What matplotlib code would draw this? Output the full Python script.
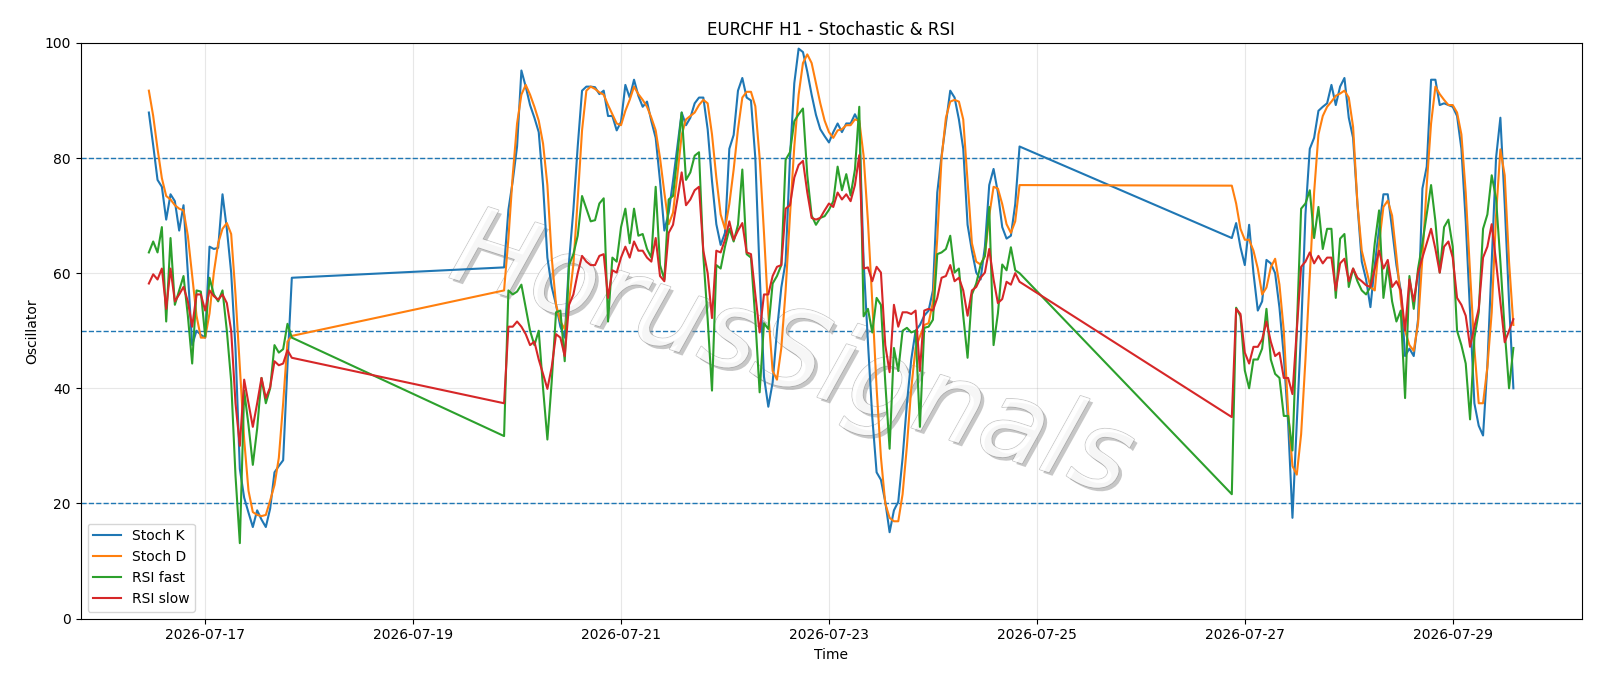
import numpy as np
import pandas as pd
import matplotlib
matplotlib.use("Agg")
import matplotlib.pyplot as plt
import matplotlib.dates as mdates
import matplotlib.patheffects as pe

# ---- session starts (hourly bars, weekend gaps) ----
seg1_start = "2026-07-16 11:00"
seg2_start = "2026-07-19 21:00"
seg3_start = "2026-07-26 21:00"

# ---- segment 1 ----
stoch_k_1 = [87.9, 82.2, 76.2, 75.0, 69.3, 73.7, 72.5, 67.4, 71.8, 60.0, 47.5, 50.0, 49.3, 48.8,
             64.6, 64.2, 64.4, 73.7, 67.7, 60.1, 46.9, 26.0, 21.0, 18.4, 15.9, 18.8, 17.2, 15.9,
             19.1, 25.4, 26.5, 27.5, 44.0, 59.2]
stoch_d_1 = [91.7, 87.3, 81.6, 76.5, 73.4, 72.8, 71.8, 71.2, 70.9, 66.5, 59.5, 52.6, 48.8, 48.8,
             53.0, 60.1, 65.2, 67.7, 68.7, 66.8, 56.3, 43.7, 31.1, 22.2, 18.5, 18.0, 17.8, 18.0,
             20.5, 23.2, 27.9, 37.4, 48.1, 49.1]
rsi_fast_1 = [63.6, 65.5, 63.6, 68.0, 51.6, 66.1, 54.5, 57.0, 59.5, 52.6, 44.3, 57.0, 56.8, 49.0,
              59.2, 56.3, 55.1, 57.0, 50.0, 41.2, 24.8, 13.1, 39.6, 33.6, 26.7, 33.0, 41.8, 37.4,
              40.0, 47.5, 46.2, 46.8, 51.2, 48.8]
rsi_slow_1 = [58.2, 59.8, 58.9, 60.8, 53.8, 60.8, 55.1, 56.3, 57.6, 55.1, 50.7, 56.3, 56.3, 53.5,
              57.0, 56.0, 55.4, 56.3, 54.8, 50.0, 37.4, 30.0, 41.5, 37.4, 33.3, 37.4, 41.8, 38.3,
              40.2, 44.7, 44.0, 44.3, 46.6, 45.3]

# ---- segment 2 ----
stoch_k_2 = [61.0, 71.0, 76.0, 82.0, 95.2, 92.4, 89.2, 87.0, 84.5, 75.3, 62.7, 57.6, 54.5, 50.7,
             48.8, 62.0, 71.0, 82.0, 91.7, 92.4, 92.4, 92.3, 91.1, 91.7, 87.3, 87.3, 84.8, 86.3,
             92.7, 90.5, 93.6, 90.8, 88.9, 89.8, 86.4, 83.5, 76.0, 67.4, 70.5, 76.0, 82.0, 87.9,
             85.7, 87.0, 89.5, 90.5, 90.5, 85.0, 76.0, 68.5, 64.9, 67.0, 81.6, 84.0, 91.7, 93.9,
             90.5, 90.0, 80.0, 60.0, 42.0, 36.8, 41.0, 50.0, 57.5, 62.0, 80.0, 93.0, 99.0, 98.4,
             95.0, 91.0, 87.5, 85.0, 83.8, 82.7, 84.5, 86.0, 84.5, 86.0, 86.0, 87.6, 86.0, 62.0,
             48.0, 35.0, 25.4, 24.1, 20.3, 15.0, 18.8, 20.3, 27.9, 37.4, 45.0, 50.0, 51.0, 52.6,
             53.5, 57.0, 74.0, 80.4, 86.0, 91.7, 90.5, 86.7, 81.6, 68.4, 63.9, 60.1, 58.9, 64.6,
             75.3, 78.1, 74.0, 68.0, 66.0, 66.5, 72.0, 82.0]
stoch_d_2 = [57.0, 66.0, 77.0, 86.0, 91.0, 92.7, 91.0, 88.9, 86.5, 82.5, 75.3, 62.7, 54.5, 51.6,
             50.3, 55.0, 61.5, 72.8, 84.8, 91.7, 92.4, 92.0, 91.4, 91.0, 89.2, 87.6, 86.0, 85.7,
             88.2, 90.1, 92.4, 91.1, 90.1, 88.9, 87.0, 84.8, 80.0, 74.0, 68.5, 70.5, 77.0, 84.0,
             86.7, 87.3, 87.9, 89.2, 90.1, 89.5, 84.1, 76.6, 70.2, 67.7, 72.0, 78.0, 85.0, 90.5,
             91.5, 91.5, 89.0, 80.0, 67.0, 53.0, 43.0, 41.5, 47.0, 57.0, 70.0, 82.0, 91.0, 96.5,
             98.0, 96.5, 93.0, 89.5, 86.5, 84.5, 83.5, 84.8, 85.0, 85.7, 85.7, 86.7, 86.5, 80.4,
             69.0, 55.0, 40.0, 28.0, 20.0, 17.5, 16.9, 16.9, 21.6, 30.0, 40.0, 47.0, 49.0, 51.0,
             51.3, 55.0, 66.0, 80.0, 87.0, 89.8, 90.1, 89.8, 86.7, 76.0, 65.2, 62.0, 61.5, 63.0,
             70.0, 75.0, 74.7, 72.0, 68.5, 67.0, 69.0, 75.3]
rsi_fast_2 = [31.7, 57.0, 56.3, 56.8, 58.0, 54.0, 50.0, 47.5, 50.0, 40.0, 31.1, 41.2, 53.2, 53.5,
              44.7, 61.4, 63.3, 66.5, 73.4, 71.2, 69.0, 69.2, 72.1, 73.0, 51.6, 62.7, 62.0, 68.0,
              71.2, 65.2, 71.2, 66.5, 66.8, 64.2, 62.7, 75.0, 61.4, 58.9, 72.8, 73.4, 80.4, 87.9,
              76.2, 77.5, 80.4, 81.0, 63.0, 52.0, 39.6, 61.4, 60.8, 64.6, 67.7, 65.5, 68.4, 78.0,
              63.3, 62.7, 52.0, 39.3, 51.3, 50.3, 58.2, 59.5, 61.4, 79.7, 81.0, 86.4, 87.6, 88.6,
              77.0, 70.0, 68.4, 69.6, 69.9, 71.0, 72.5, 78.5, 74.4, 77.2, 73.5, 78.0, 88.9, 52.5,
              53.8, 49.7, 55.7, 54.5, 41.0, 29.5, 47.0, 43.0, 50.0, 50.5, 49.7, 50.0, 33.3, 50.5,
              50.7, 51.9, 63.3, 63.6, 64.2, 66.5, 60.1, 60.8, 52.6, 45.3, 56.3, 58.2, 61.4, 63.0,
              71.5, 47.5, 53.0, 61.5, 60.5, 64.5, 60.5, 60.0]
rsi_slow_2 = [37.4, 50.7, 50.7, 51.6, 50.7, 49.4, 47.5, 48.1, 45.0, 42.5, 39.9, 43.7, 49.4, 48.8,
              45.6, 54.5, 56.3, 60.0, 63.0, 62.0, 61.4, 61.4, 63.0, 63.3, 55.7, 60.5, 60.1, 62.7,
              64.6, 62.7, 65.5, 63.9, 63.9, 62.7, 62.0, 66.1, 59.5, 58.6, 67.0, 68.4, 72.8, 77.5,
              71.8, 72.8, 74.4, 75.0, 63.9, 60.0, 52.2, 63.9, 63.6, 65.8, 69.0, 65.8, 67.4, 68.7,
              63.6, 63.3, 56.3, 49.7, 56.3, 56.3, 59.5, 61.1, 61.4, 71.2, 71.8, 76.6, 78.8, 79.5,
              74.0, 69.6, 69.3, 69.6, 70.9, 72.1, 71.5, 74.0, 72.8, 73.7, 72.5, 75.3, 80.5, 60.8,
              61.0, 58.6, 61.1, 60.1, 47.5, 42.8, 54.5, 50.7, 53.2, 53.2, 52.9, 53.5, 43.0, 53.5,
              53.8, 53.5, 55.7, 59.2, 59.5, 61.4, 58.6, 59.2, 57.0, 52.6, 57.0, 57.6, 59.2, 60.1,
              64.2, 58.9, 54.8, 55.5, 58.5, 58.0, 60.0, 58.5]

# ---- segment 3 ----
stoch_k_3 = [66.1, 68.7, 64.5, 61.4, 68.4, 60.0, 53.5, 55.1, 62.3, 61.7, 60.0, 54.0, 45.6, 34.0,
             17.5, 34.0, 50.0, 70.2, 81.6, 83.5, 88.2, 88.9, 89.5, 92.7, 89.2, 92.4, 93.9, 87.0,
             83.5, 72.0, 62.0, 58.9, 54.1, 61.4, 67.7, 73.7, 73.7, 67.7, 61.4, 57.0, 45.6, 46.9,
             45.6, 52.0, 74.7, 78.5, 93.6, 93.6, 89.2, 89.5, 89.2, 88.9, 87.3, 81.6, 69.0, 53.2,
             37.4, 33.5, 31.8, 44.0, 62.0, 80.0, 87.0, 72.0, 55.0, 40.0]
stoch_d_3 = [75.2, 72.1, 67.7, 65.8, 65.8, 63.9, 60.8, 56.3, 57.5, 61.0, 62.5, 58.0, 50.0, 36.0,
             26.5, 25.0, 32.0, 45.0, 59.5, 74.0, 84.1, 87.3, 88.9, 89.8, 90.8, 91.2, 91.7, 90.5,
             85.4, 72.1, 63.9, 60.8, 57.6, 57.0, 65.2, 71.5, 72.6, 70.0, 63.0, 55.5, 50.0, 47.5,
             46.5, 51.3, 62.7, 75.3, 86.0, 92.4, 91.1, 90.1, 89.2, 89.2, 87.9, 84.1, 74.0, 60.1,
             46.9, 37.4, 37.4, 43.7, 53.2, 70.0, 81.5, 77.0, 62.0, 51.0]
rsi_fast_3 = [21.6, 54.0, 52.5, 43.1, 40.0, 45.0, 45.0, 46.9, 53.8, 45.0, 42.5, 41.8, 35.2, 35.2,
              29.2, 50.0, 71.2, 72.1, 74.4, 66.1, 71.5, 64.2, 67.7, 67.7, 55.7, 66.0, 66.8, 57.6,
              60.8, 58.6, 57.0, 56.3, 57.6, 65.2, 70.9, 55.7, 61.4, 55.1, 51.6, 53.5, 38.3, 59.5,
              53.8, 60.8, 65.2, 70.2, 75.3, 69.0, 60.1, 68.0, 69.3, 64.6, 50.0, 47.5, 44.3, 34.6,
              48.8, 53.2, 67.7, 70.2, 77.0, 73.0, 62.0, 50.0, 40.0, 47.0]
rsi_slow_3 = [35.0, 53.8, 52.9, 46.2, 44.3, 47.2, 47.2, 48.5, 51.6, 48.1, 45.6, 46.2, 41.8, 41.8,
              39.0, 50.0, 61.1, 62.0, 63.6, 61.7, 63.0, 61.7, 62.7, 62.7, 57.0, 61.7, 62.5, 58.6,
              60.8, 59.2, 58.6, 57.9, 57.6, 60.8, 63.9, 60.8, 62.3, 57.6, 58.6, 57.0, 50.0, 58.9,
              55.1, 60.1, 62.7, 65.2, 67.7, 64.2, 60.1, 64.6, 65.5, 62.7, 55.7, 54.5, 52.6, 47.2,
              50.7, 53.8, 62.7, 64.6, 68.5, 62.0, 55.0, 48.0, 50.0, 52.0]

levels = [80, 50, 20]
series_labels = ["Stoch K", "Stoch D", "RSI fast", "RSI slow"]
tick_days = ["2026-07-17", "2026-07-19", "2026-07-21", "2026-07-23",
             "2026-07-25", "2026-07-27", "2026-07-29"]

t = (list(pd.date_range(seg1_start, periods=len(stoch_k_1), freq="h")) +
     list(pd.date_range(seg2_start, periods=len(stoch_k_2), freq="h")) +
     list(pd.date_range(seg3_start, periods=len(stoch_k_3), freq="h")))
k = stoch_k_1 + stoch_k_2 + stoch_k_3
d = stoch_d_1 + stoch_d_2 + stoch_d_3
rf = rsi_fast_1 + rsi_fast_2 + rsi_fast_3
rs = rsi_slow_1 + rsi_slow_2 + rsi_slow_3

fig, ax = plt.subplots(figsize=(16, 6.86), dpi=100)
fig.subplots_adjust(left=0.0504, right=0.9885, top=0.9375, bottom=0.0983)

for vals, lab in zip([k, d, rf, rs], series_labels):
    ax.plot(t, vals, label=lab, linewidth=1.5, zorder=3)

for lv in levels:
    ax.axhline(lv, linestyle="--", linewidth=1, color="C0", zorder=2)

ax.set_ylim(0, 100)
ax.set_xticks(pd.to_datetime(tick_days))
ax.xaxis.set_major_formatter(mdates.DateFormatter("%Y-%m-%d"))
ax.grid(True, alpha=0.3)
ax.set_title("EURCHF H1 - Stochastic & RSI")
ax.set_xlabel("Time")
ax.set_ylabel("Oscillator")
ax.legend(loc="lower left")

ax.text(0.495, 0.48, "HorusSignals", transform=fig.transFigure, fontsize=78,
        style="italic", rotation=-18, ha="center", va="center",
        color="white", alpha=0.85, zorder=2.5,
        path_effects=[pe.withStroke(linewidth=1.2, foreground="#bdbdbd"),
                      pe.SimplePatchShadow(offset=(2.5, -2.5), shadow_rgbFace="#909090",
                                           alpha=0.5),
                      pe.Normal()])

fig.savefig("out.png", dpi=100)
